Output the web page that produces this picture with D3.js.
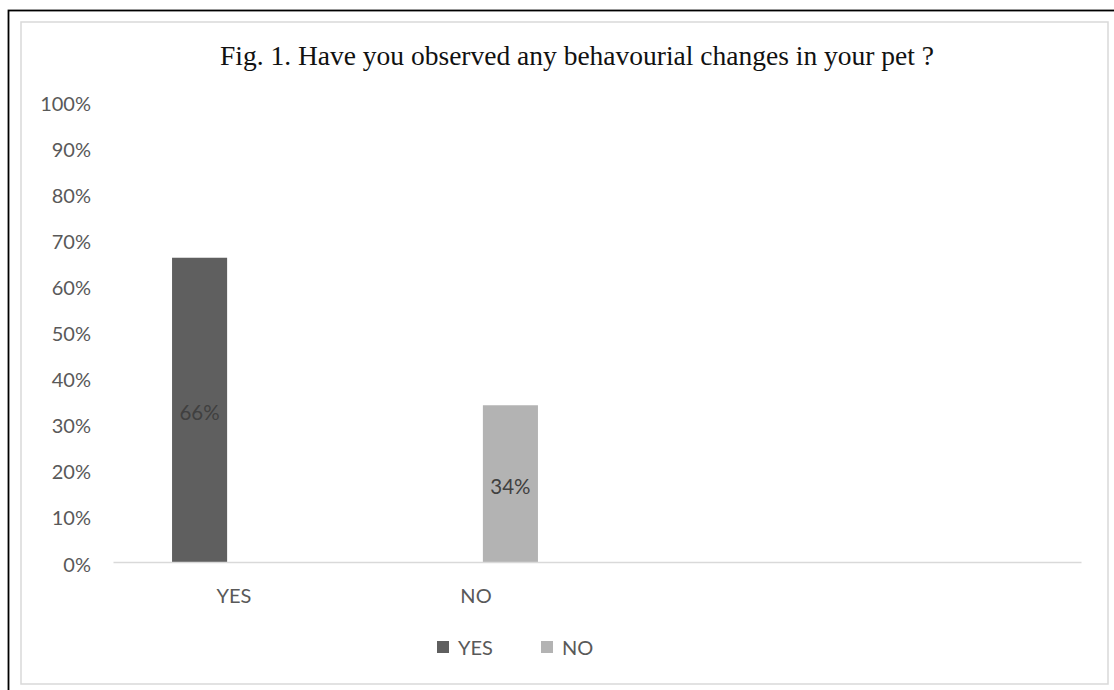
<!DOCTYPE html>
<html>
<head>
<meta charset="utf-8">
<script src="https://cdn.jsdelivr.net/npm/d3@7"></script>
<style>
  html, body { margin: 0; padding: 0; background: #fff; }
  svg { display: block; }
</style>
</head>
<body>
<svg id="chart" width="1114" height="690"></svg>
<script>
// Survey answers: share of respondents per answer
const categories = ["YES", "NO", "", ""];
const seriesNames = ["YES", "NO"];
const yesValues = [66, null, null, null];
const noValues = [null, 34, null, null];
const yTicks = [0, 10, 20, 30, 40, 50, 60, 70, 80, 90, 100];
const titleText = "Fig. 1. Have you observed any behavourial changes in your pet ?";

const seriesColors = { YES: "#5f5f5f", NO: "#b3b3b3" };
const textGray = "#595959";
const sans = "Lato, 'Open Sans', sans-serif";

const svg = d3.select("#chart");
svg.append("rect").attr("width", 1114).attr("height", 690).attr("fill", "#fff");

// outer frame (black) and chart-area frame (light grey)
svg.append("rect")
  .attr("x", 8.5).attr("y", 10.5).attr("width", 1130).attr("height", 700)
  .attr("fill", "none").attr("stroke", "#000").attr("stroke-width", 1.8);
svg.append("rect")
  .attr("x", 21).attr("y", 22).attr("width", 1087).attr("height", 662)
  .attr("fill", "#fff").attr("stroke", "#d9d9d9").attr("stroke-width", 1.5);

const plot = { left: 113, right: 1081, top: 101, bottom: 562 };

const x0 = d3.scaleBand()
  .domain(d3.range(categories.length))
  .range([plot.left, plot.right])
  .padding(0);

const x1 = d3.scaleBand()
  .domain(seriesNames)
  .range([x0.bandwidth() * 0.244, x0.bandwidth() * 0.756])
  .paddingInner(0.2);

const y = d3.scaleLinear().domain([0, 100]).range([plot.bottom, plot.top]);

// title
svg.append("text")
  .attr("x", 577).attr("y", 65)
  .attr("text-anchor", "middle")
  .attr("font-family", "'Liberation Serif', 'Times New Roman', serif")
  .attr("font-size", 27.5)
  .attr("fill", "#111")
  .attr("textLength", 714)
  .attr("lengthAdjust", "spacingAndGlyphs")
  .text(titleText);

// y axis (labels only)
const yAxis = d3.axisLeft(y).tickValues(yTicks).tickFormat(d => d + "%").tickSize(0).tickPadding(0);
const yg = svg.append("g").attr("transform", `translate(91,0)`).call(yAxis);
yg.select(".domain").remove();
yg.selectAll("text")
  .attr("font-family", sans).attr("font-size", 20)
  .attr("fill", textGray).attr("dy", "0.45em");

// bars
const table = categories.map((c, i) => ({
  index: i,
  values: [{ key: "YES", value: yesValues[i] }, { key: "NO", value: noValues[i] }]
}));

const groups = svg.append("g").selectAll("g")
  .data(table).join("g")
  .attr("transform", d => `translate(${x0(d.index)},0)`);

const bars = groups.selectAll("g.bar")
  .data(d => d.values.filter(v => v.value != null))
  .join("g").attr("class", "bar");

bars.append("rect")
  .attr("x", d => x1(d.key))
  .attr("width", x1.bandwidth())
  .attr("y", d => y(d.value))
  .attr("height", d => y(0) - y(d.value))
  .attr("fill", d => seriesColors[d.key]);

bars.append("text")
  .attr("x", d => x1(d.key) + x1.bandwidth() / 2)
  .attr("y", d => (y(d.value) + y(0)) / 2)
  .attr("dy", "0.5em")
  .attr("text-anchor", "middle")
  .attr("font-family", sans).attr("font-size", 20.5)
  .attr("fill", "#404040")
  .text(d => d.value + "%");

// category axis
const xAxis = d3.axisBottom(x0).tickFormat(i => categories[i]).tickSize(0).tickPadding(0);
const xg = svg.append("g").attr("transform", `translate(0,${plot.bottom})`).call(xAxis);
xg.select(".domain").attr("stroke", "#d9d9d9").attr("stroke-width", 1.5);
xg.selectAll("text")
  .attr("font-family", sans).attr("font-size", 20)
  .attr("fill", textGray).attr("dy", "2.05em");

// legend
const legendItems = [
  { key: "YES", x: 437 },
  { key: "NO", x: 541 }
];
const lg = svg.append("g").selectAll("g")
  .data(legendItems).join("g")
  .attr("transform", d => `translate(${d.x},641)`);
lg.append("rect").attr("width", 12).attr("height", 12)
  .attr("fill", d => seriesColors[d.key]);
lg.append("text")
  .attr("x", 21).attr("y", 6).attr("dy", "0.42em")
  .attr("font-family", sans).attr("font-size", 20)
  .attr("fill", textGray)
  .text(d => d.key);
</script>
</body>
</html>
